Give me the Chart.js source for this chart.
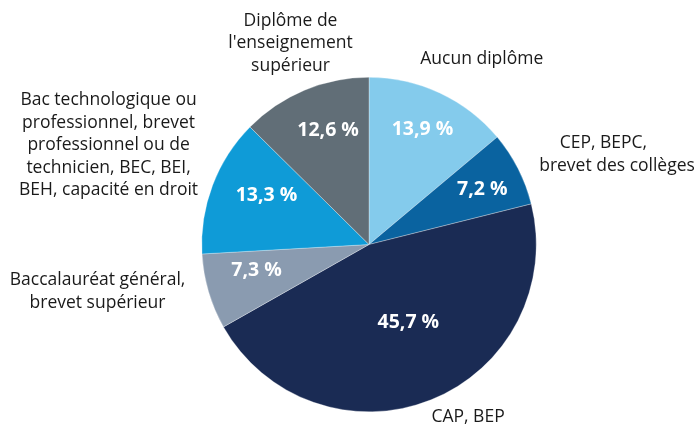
<!DOCTYPE html>
<html>
<head>
<meta charset="utf-8">
<script src="https://cdn.jsdelivr.net/npm/chart.js@4"></script>
<style>
html,body{margin:0;padding:0;background:#fff;}
#wrap{width:698px;height:427px;}
</style>
</head>
<body>
<div id="wrap"><canvas id="c" width="698" height="427"></canvas></div>
<script>
const categories = [
  ["Aucun diplôme"],
  ["CEP, BEPC,\u00a0\u00a0\u00a0\u00a0\u00a0\u00a0", "brevet des collèges"],
  ["CAP, BEP"],
  ["Baccalauréat général,", "brevet supérieur"],
  ["Bac technologique ou", "professionnel, brevet", "professionnel ou de", "technicien, BEC, BEI,", "BEH, capacité en droit"],
  ["Diplôme de", "l'enseignement", "supérieur"]
];
const values = [13.9, 7.2, 45.7, 7.3, 13.3, 12.6];
const colors = ["#84cbec", "#0a63a0", "#1a2b54", "#8a9bb0", "#0f9bd7", "#616e77"];

// label placement (style, not data)
const outerNudge = [[42,-34],[99,-14],[37,17],[-111,0],[-104,-40],[-14,-47]];
const innerPos = [[0.756,0],[0.754,1],[0.522,-5],[0.69,3.5],[0.68,5],[0.726,3]];

const labelPlugin = {
  id: 'labels',
  afterDraw(chart) {
    const ctx = chart.ctx;
    const meta = chart.getDatasetMeta(0);
    ctx.save();
    ctx.textAlign = 'center';
    ctx.textBaseline = 'middle';
    meta.data.forEach((arc, i) => {
      const p = arc.getProps(['x','y','startAngle','endAngle','outerRadius'], true);
      const mid = (p.startAngle + p.endAngle) / 2;
      const [f, da] = innerPos[i];
      const a = mid + da * Math.PI / 180;
      const ix = p.x + Math.cos(a) * p.outerRadius * f;
      const iy = p.y + Math.sin(a) * p.outerRadius * f;
      ctx.fillStyle = '#ffffff';
      ctx.font = 'bold 19.5px "Open Sans", "Noto Sans", sans-serif';
      ctx.fillText(values[i].toFixed(1).replace('.', ',') + ' %', ix, iy);
      const ox = p.x + Math.cos(mid) * p.outerRadius + outerNudge[i][0];
      const oy = p.y + Math.sin(mid) * p.outerRadius + outerNudge[i][1];
      const lines = categories[i];
      const lh = 22.5;
      ctx.fillStyle = '#1a1a1a';
      ctx.font = '17.5px "Open Sans", "Noto Sans", sans-serif';
      lines.forEach((ln, k) => {
        ctx.fillText(ln, ox, oy + (k - (lines.length - 1) / 2) * lh);
      });
    });
    ctx.restore();
  }
};

new Chart(document.getElementById('c'), {
  type: 'pie',
  data: {
    labels: categories.map(c => c.join(' ')),
    datasets: [{
      data: values,
      backgroundColor: colors,
      borderColor: 'rgba(255,255,255,0.6)',
      borderWidth: 0.5
    }]
  },
  options: {
    responsive: false,
    animation: false,
    layout: { padding: { top: 77, bottom: 15, left: 40, right: 0 } },
    plugins: { legend: { display: false }, tooltip: { enabled: false } }
  },
  plugins: [labelPlugin]
});
</script>
</body>
</html>
